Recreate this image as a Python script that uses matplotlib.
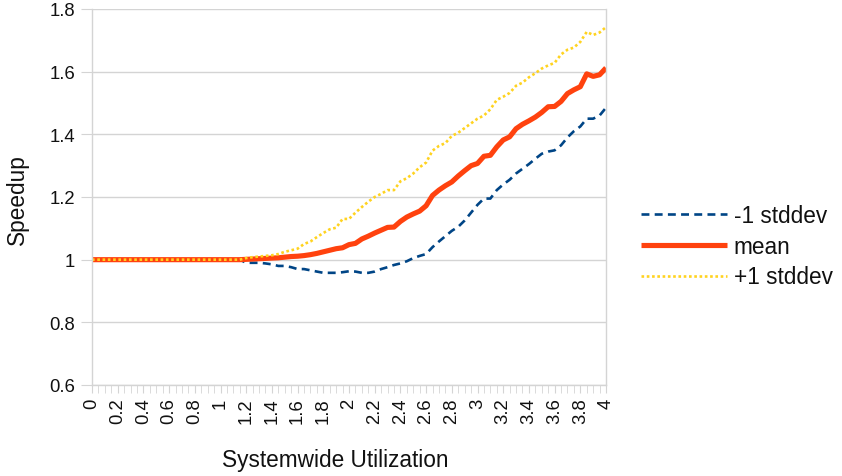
import numpy as np
import matplotlib.pyplot as plt
from matplotlib.ticker import MultipleLocator

plt.rcParams['font.family'] = ['Liberation Sans', 'DejaVu Sans']

# utilization steps 0 .. 4 by 0.05
utilization = np.round(np.arange(81) * 0.05, 2)

flat = [1.0] * 24  # 0 .. 1.15

mean = flat + [
    1.001, 1.002, 1.003, 1.004, 1.005, 1.006, 1.008, 1.010, 1.011, 1.013,
    1.016, 1.020, 1.025, 1.030, 1.035, 1.038,
    1.048, 1.052, 1.066, 1.075, 1.085, 1.094, 1.103, 1.104, 1.122, 1.136,
    1.146, 1.155, 1.172, 1.205, 1.222, 1.236, 1.248, 1.267, 1.284, 1.300,
    1.307, 1.330, 1.333, 1.360, 1.382, 1.392, 1.418, 1.432, 1.443, 1.455,
    1.470, 1.488, 1.489, 1.505, 1.530, 1.542, 1.552, 1.593, 1.585, 1.590,
    1.612]

minus_sd = flat + [
    0.990, 0.990, 0.990, 0.988, 0.985, 0.980, 0.980, 0.976, 0.970, 0.970,
    0.966, 0.962, 0.958, 0.958, 0.958, 0.960,
    0.963, 0.962, 0.958, 0.958, 0.962, 0.970, 0.976, 0.983, 0.988, 0.995,
    1.005, 1.012, 1.018, 1.040, 1.058, 1.075, 1.092, 1.105, 1.125, 1.150,
    1.175, 1.195, 1.195, 1.222, 1.240, 1.255, 1.275, 1.290, 1.305, 1.322,
    1.338, 1.345, 1.349, 1.365, 1.390, 1.410, 1.425, 1.450, 1.450, 1.460,
    1.485]

plus_sd = flat + [
    1.005, 1.008, 1.010, 1.012, 1.014, 1.018, 1.025, 1.030, 1.035, 1.050,
    1.058, 1.072, 1.085, 1.097, 1.102, 1.130,
    1.130, 1.150, 1.168, 1.185, 1.200, 1.210, 1.222, 1.222, 1.250, 1.260,
    1.275, 1.295, 1.310, 1.348, 1.363, 1.372, 1.395, 1.405, 1.420, 1.435,
    1.450, 1.460, 1.480, 1.510, 1.520, 1.532, 1.555, 1.565, 1.582, 1.595,
    1.610, 1.620, 1.628, 1.655, 1.670, 1.677, 1.695, 1.727, 1.717, 1.725,
    1.742]

tick_labels = ['0', '0.2', '0.4', '0.6', '0.8', '1', '1.2', '1.4', '1.6', '1.8', '2',
               '2.2', '2.4', '2.6', '2.8', '3', '3.2', '3.4', '3.6', '3.8', '4']

W, H = 842, 477
fig = plt.figure(figsize=(W / 100, H / 100), dpi=100)
ax = fig.add_axes([92 / W, (H - 386) / H, (606 - 92) / W, (386 - 10) / H])

grid_c = '#d4d4d4'
ax.plot(utilization, minus_sd, color='#004586', lw=1.9, ls=(0, (3, 2)), label='-1 stddev')
ax.plot(utilization, mean, color='#ff420e', lw=3.7, solid_capstyle='butt', label='mean')
ax.plot(utilization, plus_sd, color='#ffd320', lw=1.9, ls=(0, (1, 1)), label='+1 stddev')

ax.set_xlim(0, 4)
ax.set_ylim(0.6, 1.8)
ax.set_yticks(np.arange(0.6, 1.81, 0.2))
ax.set_yticklabels(['0.6', '0.8', '1', '1.2', '1.4', '1.6', '1.8'])
ax.set_xticks(np.linspace(0, 4, 21))
ax.set_xticklabels(tick_labels, rotation=90)
ax.xaxis.set_minor_locator(MultipleLocator(0.05))

ax.grid(axis='y', color=grid_c, lw=1)
ax.set_axisbelow(True)
for side in ['left', 'bottom', 'right']:
    ax.spines[side].set_color(grid_c)
    ax.spines[side].set_linewidth(1)
ax.spines['top'].set_visible(False)

ax.tick_params(axis='y', length=8, color=grid_c, labelsize=13.3, pad=4, labelcolor='#111111')
ax.tick_params(axis='x', which='both', length=6, color=grid_c, labelsize=13.3, pad=3,
               labelcolor='#111111')

fig.text(17 / W, 1 - 200 / H, 'Speedup', rotation=90, ha='center', va='center',
         fontsize=16.3, color='#111111')
fig.text(335 / W, 1 - 461 / H, 'Systemwide Utilization', ha='center', va='center',
         fontsize=16.3, color='#111111')

fig.legend(loc='center left', bbox_to_anchor=(641 / W, 1 - 247 / H), frameon=False,
           fontsize=16.3, handlelength=3.8, handletextpad=0.3, labelspacing=0.35,
           borderpad=0, borderaxespad=0, labelcolor='#111111')

fig.savefig('out.png', dpi=100)
